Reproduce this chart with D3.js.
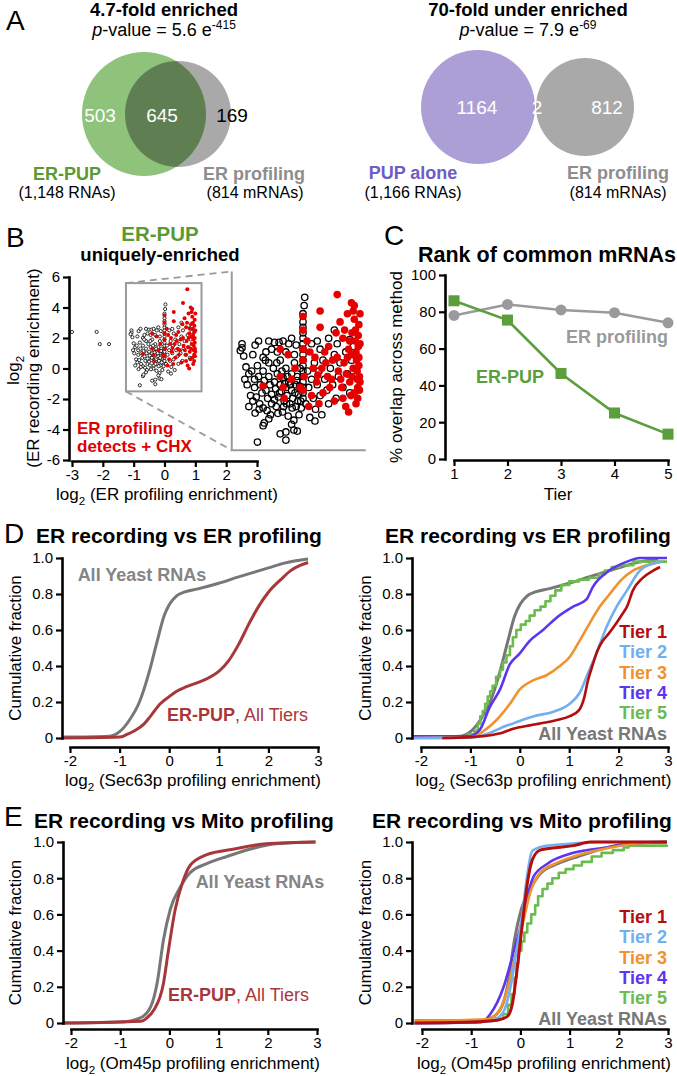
<!DOCTYPE html>
<html><head><meta charset="utf-8">
<script src="https://cdn.jsdelivr.net/npm/d3@7"></script>
<style>body{margin:0;background:#fff}svg{display:block}text{font-family:"Liberation Sans",Arial,Helvetica,sans-serif}</style>
</head><body>
<svg id="c" width="677" height="1076"></svg>
<script>
// ---------------- DATA ----------------
const vennLeftCounts = [503, 645, 169];
const vennRightCounts = [1164, 2, 812];
const tiers = [1, 2, 3, 4, 5];
const rankERprofiling = [78, 84, 81, 79.5, 74];
const rankERPUP = [86, 75.5, 46.5, 25, 13.5];
const scatterTicks = [-6, -4, -2, 0, 2, 4, 6];
const scatterXTicks = [-3, -2, -1, 0, 1, 2, 3];
const cdfYTicks = [0, 0.2, 0.4, 0.6, 0.8, 1.0];
const cdfXTicks = [-2, -1, 0, 1, 2, 3];
const rankYTicks = [0, 20, 40, 60, 80, 100];
const tierLabels = ["Tier 1", "Tier 2", "Tier 3", "Tier 4", "Tier 5", "All Yeast RNAs"];

const scatterBlack = [
[-3.0,2.4],[-2.2,2.4],[-2.1,1.6],[-1.8,1.6],
[-1.07,2.5],[-1.07,2.35],[-1.1,2.25],[-1.04,2.05],[-1.0,1.65],[-0.88,2.1],[-0.84,2.45],[-0.78,2.6],[-0.6,2.6],[-0.5,2.55],[-0.42,2.55],[-0.35,2.6],[-0.25,2.5],[-0.2,2.7],[-0.12,2.45],[-0.55,2.3],[-0.45,2.2],[-0.65,2.2],[0.15,2.5],[0.25,2.6],[0.45,2.7],[0.6,2.5],[0.82,2.65],[0.3,2.3],[-0.3,2.2],[0.55,3.0],[-0.7,2.0],[-0.15,2.1],
[-0.95,1.4],[-1.02,1.2],[-0.98,1.0],[-0.9,1.5],[-0.85,1.2],[-0.85,0.9],[-0.8,1.7],[-0.78,1.3],[-0.75,1.0],[-0.72,0.7],[-0.7,1.5],[-0.68,1.15],[-0.65,0.8],[-0.62,0.5],[-0.6,1.8],[-0.6,1.3],[-0.58,1.0],[-0.55,0.65],[-0.55,0.3],[-0.52,1.6],[-0.5,1.1],[-0.48,0.85],[-0.47,0.2],[-0.45,1.4],[-0.43,0.55],[-0.4,1.9],[-0.4,1.0],[-0.38,0.75],[-0.36,0.0],[-0.35,1.25],[-0.33,0.4],[-0.3,1.6],[-0.3,0.9],[-0.28,0.6],[-0.26,-0.15],[-0.25,1.1],[-0.23,0.3],[-0.2,1.4],[-0.2,0.8],[-0.18,0.5],[-0.16,-0.3],[-0.15,1.8],[-0.13,1.0],[-0.12,0.2],[-0.1,1.3],[-0.08,0.65],[-0.07,-0.1],[-0.05,1.6],[-0.04,0.4],
[-0.92,0.6],[-0.88,0.4],[-0.82,0.55],[-0.76,0.3],[-0.7,0.15],[-0.66,1.9],[-0.63,0.05],[-0.57,-0.1],[-0.5,0.45],[-0.46,1.8],[-0.44,-0.05],[-0.41,0.7],[-0.37,1.5],[-0.34,0.2],[-0.32,1.05],[-0.29,0.3],[-0.27,1.3],[-0.22,1.0],[-0.19,0.15],[-0.14,0.7],[-0.11,1.15],[-0.09,0.4],[-0.06,0.95],[-0.03,0.15],
[0,0.5],[0,0.7],[0,0.9],[0,1.1],[0,1.3],[0,1.5],[0,1.7],[0,1.9],[0,2.1],[0,2.3],[0,2.5],[0,2.7],[0,2.9],[0,3.1],[0,3.3],[0,3.6],[0.02,3.9],[0.03,4.2],
[0.05,0.3],[0.08,1.5],[0.1,0.9],[0.12,-0.2],[0.15,1.2],[0.18,0.5],[0.2,1.8],[0.22,0.1],[0.25,1.0],[0.28,1.5],[0.3,0.6],[0.33,-0.1],[0.35,1.9],[0.38,1.2],[0.42,0.8],[0.45,0.3],[0.48,1.6],[0.52,1.0],[0.55,2.1],[0.58,0.5],[0.62,1.3],[0.65,1.8],[0.7,0.9],[0.75,2.2],[0.78,1.4],[0.82,0.7],[0.85,1.9],[0.88,2.4],
[-0.8,-1.1],[-0.7,-0.5],[-0.68,-0.4],[-0.4,-0.8],[-0.3,-0.73],[-0.3,-1.03],[-0.16,-0.66],[-0.1,-0.7],[0.21,-0.33],[-0.84,-0.04],[-0.77,0.1],[-0.95,0.2],[-0.6,-0.25],[-0.2,-0.45]
];
const scatterRed = [
[-0.7,0.95],[-0.4,2.3],[-0.4,1.3],[-0.35,0.9],[-0.33,0.5],[-0.26,2.1],[-0.14,1.6],[-0.2,1.2],[-0.05,0.9],
[0.0,3.5],[0.0,3.0],[0.0,2.3],[0.0,1.9],[0.02,1.3],[0.0,0.8],
[0.07,2.6],[0.3,3.7],[0.6,4.3],[0.74,5.2],[0.3,3.1],[0.21,2.0],[0.26,1.35],[0.15,0.6],[0.35,0.7],[0.4,1.8],[0.45,2.4],[0.5,1.2],[0.55,0.4],[0.6,2.0],[0.62,1.5],[0.65,3.3],[0.68,0.9],[0.7,2.7],[0.72,1.8],[0.75,0.2],[0.78,3.6],[0.8,2.3],[0.82,1.1],[0.84,0.6],[0.86,2.9],[0.88,1.6],
[0.9,3.9],[0.9,3.4],[0.92,3.0],[0.92,2.6],[0.93,2.2],[0.94,1.9],[0.95,1.5],[0.95,1.2],[0.96,0.9],[0.96,0.5],[0.97,2.8],[0.97,2.4],[0.98,2.0],[0.98,1.7],[0.98,3.2],[0.99,1.3],[0.99,0.8],[1.0,3.6],[1.0,2.5],[1.0,1.1],
[0.88,3.7],[0.85,4.0],[0.93,0.3],[0.8,0.0],[0.58,2.9],[0.52,1.9],[0.47,0.9],[0.43,1.3],[0.38,2.2],[0.33,1.6],[0.28,0.3],[0.24,1.1],[0.18,1.6],[0.12,2.2],[0.1,0.2],[0.66,1.2],[0.7,0.5],[0.76,1.4],[0.78,2.0],[0.82,2.6],[0.86,1.3],[0.9,0.7],[0.87,2.1],[0.73,3.0]
];

// Cumulative distributions: Sec63p (ER profiling)
const cdfSecAll = [[-2.15,0.005],[-1.2,0.01],[-1.0,0.035],[-0.8,0.1],[-0.6,0.2],[-0.4,0.37],[-0.25,0.53],[-0.1,0.68],[0.0,0.74],[0.15,0.79],[0.3,0.81],[0.6,0.83],[1.0,0.86],[1.4,0.895],[1.7,0.92],[2.0,0.945],[2.3,0.97],[2.55,0.985],[2.8,0.995]];
const cdfSecERPUP = [[-2.15,0.0],[-1.0,0.005],[-0.85,0.02],[-0.7,0.04],[-0.5,0.08],[-0.38,0.12],[-0.18,0.19],[0.0,0.23],[0.15,0.26],[0.35,0.285],[0.6,0.31],[0.8,0.335],[1.0,0.37],[1.2,0.43],[1.4,0.52],[1.6,0.63],[1.8,0.73],[2.0,0.81],[2.25,0.88],[2.45,0.93],[2.65,0.96],[2.8,0.975]];
const cdfSecTier1 = [[-1.57,0.0],[-1.0,0.005],[-0.6,0.015],[-0.34,0.03],[-0.15,0.05],[0,0.06],[0.2,0.07],[0.4,0.08],[0.75,0.1],[1.0,0.12],[1.2,0.155],[1.3,0.22],[1.38,0.32],[1.48,0.41],[1.58,0.49],[1.68,0.54],[1.8,0.58],[1.96,0.64],[2.08,0.69],[2.17,0.73],[2.29,0.82],[2.49,0.89],[2.7,0.93],[2.84,0.95]];
const cdfSecTier2 = [[-2.15,0.0],[-0.88,0.005],[-0.7,0.02],[-0.55,0.035],[-0.3,0.065],[-0.14,0.08],[0.05,0.1],[0.27,0.12],[0.67,0.145],[0.9,0.17],[1.01,0.19],[1.21,0.25],[1.38,0.36],[1.55,0.47],[1.76,0.62],[1.96,0.73],[2.17,0.82],[2.43,0.93],[2.7,0.97],[2.87,0.98]];
const cdfSecTier3 = [[-2.15,0.0],[-0.95,0.005],[-0.75,0.035],[-0.47,0.1],[-0.2,0.19],[0,0.27],[0.27,0.32],[0.55,0.35],[0.81,0.4],[1.01,0.45],[1.21,0.54],[1.42,0.64],[1.62,0.73],[1.82,0.8],[2.06,0.88],[2.29,0.93],[2.57,0.96],[2.87,0.98]];
const cdfSecTier4 = [[-2.15,0.01],[-1.01,0.01],[-0.81,0.045],[-0.61,0.17],[-0.4,0.27],[-0.2,0.41],[0,0.47],[0.2,0.54],[0.47,0.6],[0.75,0.67],[1.08,0.73],[1.35,0.77],[1.48,0.84],[1.76,0.92],[2.17,0.98],[2.43,1.0],[2.98,1.0]];
const cdfSecTier5 = [[-2.15,0.01],[-1.05,0.02],[-0.92,0.04],[-0.85,0.08],[-0.8,0.12],[-0.75,0.15],[-0.7,0.19],[-0.65,0.23],[-0.6,0.26],[-0.55,0.29],[-0.48,0.34],[-0.4,0.38],[-0.34,0.42],[-0.27,0.46],[-0.2,0.51],[-0.14,0.56],[-0.07,0.6],[0.02,0.63],[0.12,0.65],[0.2,0.68],[0.3,0.71],[0.42,0.73],[0.52,0.76],[0.62,0.79],[0.72,0.82],[0.84,0.85],[1.0,0.87],[1.2,0.88],[1.4,0.89],[1.6,0.91],[1.72,0.93],[1.86,0.95],[2.02,0.96],[2.3,0.98],[2.98,0.98]];

// Cumulative distributions: Om45p (Mito profiling)
const cdfOmAll = [[-2.15,0.0],[-1.0,0.005],[-0.58,0.03],[-0.38,0.09],[-0.25,0.22],[-0.12,0.46],[0.02,0.63],[0.22,0.75],[0.42,0.83],[0.76,0.88],[1.17,0.92],[1.63,0.96],[2.17,0.99],[2.97,1.0]];
const cdfOmERPUP = [[-2.15,0.0],[-0.58,0.01],[-0.45,0.03],[-0.32,0.07],[-0.12,0.22],[-0.02,0.4],[0.12,0.63],[0.26,0.77],[0.42,0.87],[0.76,0.93],[1.29,0.96],[1.97,0.99],[2.97,1.0]];
const cdfOmTier1 = [[-2.15,0.0],[-1.0,0.005],[-0.47,0.015],[-0.27,0.035],[-0.16,0.11],[-0.06,0.31],[0.04,0.55],[0.14,0.77],[0.24,0.9],[0.4,0.955],[0.75,0.97],[1.08,0.98],[1.42,1.0],[2.98,1.0]];
const cdfOmTier2 = [[-2.15,0.0],[-0.6,0.01],[-0.35,0.06],[-0.2,0.2],[-0.08,0.4],[0.04,0.6],[0.14,0.82],[0.24,0.95],[0.45,0.975],[1.0,0.99],[1.6,1.0],[2.98,1.0]];
const cdfOmTier3 = [[-2.15,0.01],[-0.7,0.02],[-0.45,0.06],[-0.25,0.2],[-0.08,0.4],[0.05,0.55],[0.2,0.72],[0.4,0.83],[0.7,0.88],[1.08,0.92],[1.76,0.965],[2.3,0.99],[2.98,1.0]];
const cdfOmTier4 = [[-2.15,0.0],[-0.8,0.005],[-0.61,0.05],[-0.34,0.2],[-0.14,0.39],[0.04,0.57],[0.16,0.72],[0.27,0.81],[0.55,0.88],[1.08,0.94],[1.76,0.97],[2.43,0.995],[2.98,1.0]];
const cdfOmTier5 = [[-2.15,0.015],[-0.5,0.025],[-0.35,0.05],[-0.25,0.1],[-0.18,0.16],[-0.12,0.25],[-0.08,0.33],[-0.04,0.4],[0.02,0.45],[0.08,0.5],[0.14,0.55],[0.22,0.6],[0.3,0.65],[0.36,0.7],[0.45,0.74],[0.55,0.77],[0.65,0.8],[0.78,0.83],[0.92,0.85],[1.08,0.87],[1.25,0.89],[1.45,0.92],[1.65,0.94],[1.88,0.955],[2.1,0.97],[2.2,0.98],[2.98,0.985]];

// ---------------- STYLE ----------------
const FONT = '"Liberation Sans", Arial, Helvetica, sans-serif';
const C = {
  green:'#8fc27a', overlap:'#5f7e52', vgray:'#a9a9a9', purple:'#ab9fd6',
  greenTxt:'#5a9a32', grayTxt:'#8e8e8e', purpleTxt:'#6e5cc4',
  cGreen:'#5b9e3c', cGray:'#9a9a9a', red:'#e60000',
  erpup:'#a8373a', all:'#777777',
  tier:['#b50d0d','#71aff0','#f0922e','#5c35f2','#6cbb4f']
};
const svg = d3.select('#c');

function txt(x, y, s, o = {}) {
  const t = svg.append('text').attr('x', x).attr('y', y)
    .attr('font-size', o.size || 15).attr('font-weight', o.bold ? 'bold' : 'normal')
    .attr('fill', o.color || '#000').attr('text-anchor', o.anchor || 'start');
  if (s !== null) t.text(s);
  if (o.rotate) t.attr('transform', `rotate(-90,${x},${y})`);
  if (o.italic) t.attr('font-style', 'italic');
  return t;
}
function logTitle(x, y, rest, size, rotate) {
  const t = txt(x, y, null, {size: size, anchor: 'middle', rotate: rotate});
  t.append('tspan').text('log');
  t.append('tspan').attr('font-size', size * 0.68).attr('dy', size * 0.28).text('2');
  t.append('tspan').attr('dy', -size * 0.28).text('\u00a0' + rest);
  return t;
}
function styleAxis(g) {
  g.select('.domain').attr('stroke', '#000').attr('stroke-width', 2.6).attr('stroke-linecap', 'square');
  g.selectAll('.tick line').attr('stroke', '#000').attr('stroke-width', 2.2);
  g.selectAll('.tick text').attr('font-size', 15).attr('font-family', FONT).attr('fill', '#000');
}
function axisLeft(scale, x, ticks, fmt) {
  const g = svg.append('g').attr('transform', `translate(${x},0)`)
    .call(d3.axisLeft(scale).tickValues(ticks).tickFormat(fmt).tickSize(6).tickSizeOuter(0).tickPadding(3));
  styleAxis(g); return g;
}
function axisBottom(scale, y, ticks, fmt) {
  const g = svg.append('g').attr('transform', `translate(0,${y})`)
    .call(d3.axisBottom(scale).tickValues(ticks).tickFormat(fmt).tickSize(6).tickSizeOuter(0).tickPadding(2));
  styleAxis(g); return g;
}
const fmtInt = d => String(d);
const fmtFrac = d => d === 0 ? '0' : d.toFixed(1);

// ---------------- PANEL LETTERS ----------------
[['A',6,30],['B',6,247],['C',384,245],['D',4,543],['E',4,826]].forEach(([l,x,y]) => txt(x, y, l, {size: 28}));

// ---------------- PANEL A ----------------
function pval(cx, y, mant, exp) {
  const t = txt(cx, y, null, {size: 18, anchor: 'middle'});
  t.append('tspan').attr('font-style', 'italic').text('p');
  t.append('tspan').text('-value = ' + mant + ' e');
  t.append('tspan').attr('font-size', 12).attr('dy', -7).text(exp);
}
txt(164, 16, '4.7-fold enriched', {size: 18.5, bold: true, anchor: 'middle'});
pval(164, 36, '5.6', '-415');
txt(528, 16, '70-fold under enriched', {size: 18.5, bold: true, anchor: 'middle'});
pval(528, 36, '7.9', '-69');

// left venn
const vL = {g: [144, 114, 62], p: [178, 114, 53]};
svg.append('defs').append('clipPath').attr('id', 'clipGray')
  .append('circle').attr('cx', vL.p[0]).attr('cy', vL.p[1]).attr('r', vL.p[2]);
svg.append('circle').attr('cx', vL.p[0]).attr('cy', vL.p[1]).attr('r', vL.p[2]).attr('fill', C.vgray);
svg.append('circle').attr('cx', vL.g[0]).attr('cy', vL.g[1]).attr('r', vL.g[2]).attr('fill', C.green);
svg.append('circle').attr('cx', vL.g[0]).attr('cy', vL.g[1]).attr('r', vL.g[2]).attr('fill', C.overlap).attr('clip-path', 'url(#clipGray)');
txt(100, 122, vennLeftCounts[0], {size: 19, color: '#fff', anchor: 'middle'});
txt(162, 122, vennLeftCounts[1], {size: 19, color: '#fff', anchor: 'middle'});
txt(232, 122, vennLeftCounts[2], {size: 19, color: '#000', anchor: 'middle'});
txt(67, 180, 'ER-PUP', {size: 18, bold: true, color: C.greenTxt, anchor: 'middle'});
txt(67, 198, '(1,148 RNAs)', {size: 16, anchor: 'middle'});
txt(254, 180, 'ER profiling', {size: 18, bold: true, color: C.grayTxt, anchor: 'middle'});
txt(255, 198, '(814 mRNAs)', {size: 16, anchor: 'middle'});

// right venn
svg.append('circle').attr('cx', 478).attr('cy', 107).attr('r', 57).attr('fill', C.purple);
svg.append('circle').attr('cx', 585).attr('cy', 107).attr('r', 49).attr('fill', C.vgray);
txt(477, 114, vennRightCounts[0], {size: 19, color: '#fff', anchor: 'middle'});
txt(537, 114, vennRightCounts[1], {size: 19, color: '#fff', anchor: 'middle'});
txt(607, 114, vennRightCounts[2], {size: 19, color: '#fff', anchor: 'middle'});
txt(413, 179, 'PUP alone', {size: 18, bold: true, color: C.purpleTxt, anchor: 'middle'});
txt(413, 198, '(1,166 RNAs)', {size: 16, anchor: 'middle'});
txt(618, 179, 'ER profiling', {size: 18, bold: true, color: C.grayTxt, anchor: 'middle'});
txt(618, 198, '(814 mRNAs)', {size: 16, anchor: 'middle'});

// ---------------- PANEL B ----------------
txt(160, 241, 'ER-PUP', {size: 20.5, bold: true, color: C.greenTxt, anchor: 'middle'});
txt(160, 261, 'uniquely-enriched', {size: 18.5, bold: true, anchor: 'middle'});
const xS = d3.scaleLinear([-3, 3], [72, 257]);
const yS = d3.scaleLinear([-6, 6], [460, 277]);
const xB = d3.scaleLinear([-1, 1], [246, 360]);
const yB = d3.scaleLinear([0, 5], [412, 275.5]);
const insetX = [-1.25, 1.2], insetY = [-1.5, 5.6];
const bigX = [-1.25, 1.1], bigY = [-1.4, 5.15];

// inset box
svg.append('rect').attr('x', xS(insetX[0])).attr('y', yS(insetY[1]))
  .attr('width', xS(insetX[1]) - xS(insetX[0])).attr('height', yS(insetY[0]) - yS(insetY[1]))
  .attr('fill', 'none').attr('stroke', '#9a9a9a').attr('stroke-width', 2);
// connector dashed lines
const dash = [[xS(insetX[0]), yS(insetY[1]), xB(bigX[0]), yB(bigY[1])], [xS(insetX[0]), yS(insetY[0]), xB(bigX[0]), yB(bigY[0])]];
dash.forEach(d => svg.append('line').attr('x1', d[0]).attr('y1', d[1]).attr('x2', d[2]).attr('y2', d[3])
  .attr('stroke', '#9a9a9a').attr('stroke-width', 1.8).attr('stroke-dasharray', '7,5'));
// big frame (left and bottom)
svg.append('path').attr('d', `M${xB(bigX[0])},${yB(bigY[1])}V${yB(bigY[0])}H${xB(bigX[1])}`)
  .attr('fill', 'none').attr('stroke', '#9a9a9a').attr('stroke-width', 2);

// small scatter
svg.append('g').selectAll('circle').data(scatterBlack).join('circle')
  .attr('cx', d => xS(d[0])).attr('cy', d => yS(d[1])).attr('r', 1.6)
  .attr('fill', '#fff').attr('stroke', '#000').attr('stroke-width', 0.8);
svg.append('g').selectAll('circle').data(scatterRed).join('circle')
  .attr('cx', d => xS(d[0])).attr('cy', d => yS(d[1])).attr('r', 2).attr('fill', C.red);
// big scatter
const inBig = d => d[0] >= bigX[0] && d[0] <= bigX[1] && d[1] >= bigY[0] && d[1] <= bigY[1];
svg.append('g').selectAll('circle').data(scatterBlack.filter(inBig)).join('circle')
  .attr('cx', d => xB(d[0])).attr('cy', d => yB(d[1])).attr('r', 3.2)
  .attr('fill', 'none').attr('stroke', '#000').attr('stroke-width', 1.3);
svg.append('g').selectAll('circle').data(scatterRed.filter(inBig)).join('circle')
  .attr('cx', d => xB(d[0])).attr('cy', d => yB(d[1])).attr('r', 3.8).attr('fill', C.red);

axisLeft(yS, 69, scatterTicks, fmtInt);
axisBottom(d3.scaleLinear([-3, 3], [72, 257]), 461, scatterXTicks, fmtInt);
txt(77, 434, 'ER profiling', {size: 17, bold: true, color: '#e00000'});
txt(77, 452, 'detects + CHX', {size: 17, bold: true, color: '#e00000'});
logTitle(19, 368, '', 17, true);
txt(39, 368, '(ER recording enrichment)', {size: 17, anchor: 'middle', rotate: true});
logTitle(167, 500, '(ER profiling enrichment)', 17, false);

// ---------------- PANEL C ----------------
txt(547, 262, 'Rank of common mRNAs', {size: 21.5, bold: true, anchor: 'middle'});
const xC = d3.scaleLinear([1, 5], [454, 668]);
const yC = d3.scaleLinear([0, 100], [459, 275]);
axisLeft(yC, 445, rankYTicks, fmtInt);
axisBottom(xC, 460, tiers, fmtInt);
txt(558, 500, 'Tier', {size: 17, anchor: 'middle'});
txt(402, 367, '% overlap across method', {size: 17, anchor: 'middle', rotate: true});
const lineC = d3.line().x((d, i) => xC(tiers[i])).y(d => yC(d));
svg.append('path').attr('d', lineC(rankERprofiling)).attr('fill', 'none').attr('stroke', C.cGray).attr('stroke-width', 2.6);
svg.append('g').selectAll('circle').data(rankERprofiling).join('circle')
  .attr('cx', (d, i) => xC(tiers[i])).attr('cy', d => yC(d)).attr('r', 5.5).attr('fill', C.cGray);
svg.append('path').attr('d', lineC(rankERPUP)).attr('fill', 'none').attr('stroke', C.cGreen).attr('stroke-width', 2.6);
svg.append('g').selectAll('rect').data(rankERPUP).join('rect')
  .attr('x', (d, i) => xC(tiers[i]) - 5.5).attr('y', d => yC(d) - 5.5).attr('width', 11).attr('height', 11).attr('fill', C.cGreen);
txt(617, 343, 'ER profiling', {size: 18, bold: true, color: C.cGray, anchor: 'middle'});
txt(510, 383, 'ER-PUP', {size: 18, bold: true, color: C.cGreen, anchor: 'middle'});

// ---------------- CDF panels ----------------
function cdfPanel(cfg) {
  const x = d3.scaleLinear([-2, 3], cfg.xr);
  const y = d3.scaleLinear([0, 1], cfg.yr);
  txt(cfg.titleX, cfg.titleY, cfg.title, {size: 21, bold: true, anchor: 'middle'});
  cfg.series.forEach(s => {
    const ln = d3.line().x(d => x(d[0])).y(d => y(d[1])).curve(s.step ? d3.curveStepAfter : d3.curveMonotoneX);
    svg.append('path').attr('d', ln(s.data)).attr('fill', 'none').attr('stroke', s.color)
      .attr('stroke-width', s.w || 2.6).attr('stroke-linejoin', 'round');
  });
  axisLeft(y, cfg.yAxisX, cdfYTicks, fmtFrac);
  axisBottom(x, cfg.xAxisY, cdfXTicks, fmtInt);
  txt(cfg.yTitleX, (cfg.yr[0] + cfg.yr[1]) / 2, 'Cumulative fraction', {size: 17, anchor: 'middle', rotate: true});
  logTitle((cfg.xr[0] + cfg.xr[1]) / 2 - 1, cfg.xTitleY, cfg.xTitle, 17, false);
  return {x, y};
}
function tierLegend(right, y0, step) {
  tierLabels.forEach((l, i) => txt(right, y0 + i * step, l, {size: 18, bold: true, anchor: 'end', color: i < 5 ? C.tier[i] : C.all}));
}
function erpupLabel(x, y) {
  const t = txt(x, y, null, {size: 18, color: C.erpup});
  t.append('tspan').attr('font-weight', 'bold').text('ER-PUP');
  t.append('tspan').text(', All Tiers');
}

// D left
cdfPanel({xr: [70, 318], yr: [738, 558], yAxisX: 62, xAxisY: 747, title: 'ER recording vs ER profiling', titleX: 179, titleY: 543,
  yTitleX: 21, xTitleY: 786, xTitle: '(Sec63p profiling enrichment)',
  series: [{data: cdfSecAll, color: C.all, w: 3}, {data: cdfSecERPUP, color: C.erpup, w: 3}]});
txt(142, 581, 'All Yeast RNAs', {size: 18, bold: true, color: '#858585', anchor: 'middle'});
erpupLabel(167, 721);

// D right
cdfPanel({xr: [421, 668], yr: [738, 558], yAxisX: 412, xAxisY: 747, title: 'ER recording vs ER profiling', titleX: 528, titleY: 543,
  yTitleX: 371, xTitleY: 786, xTitle: '(Sec63p profiling enrichment)',
  series: [{data: cdfSecAll, color: C.all, w: 3}, {data: cdfSecTier5, color: C.tier[4], step: true},
    {data: cdfSecTier4, color: C.tier[3]}, {data: cdfSecTier3, color: C.tier[2]},
    {data: cdfSecTier2, color: C.tier[1]}, {data: cdfSecTier1, color: C.tier[0]}]});
tierLegend(667, 638, 20.3);

// E left
cdfPanel({xr: [71, 317], yr: [1023, 842], yAxisX: 63, xAxisY: 1029, title: 'ER recording vs Mito profiling', titleX: 184, titleY: 828,
  yTitleX: 21, xTitleY: 1069, xTitle: '(Om45p profiling enrichment)',
  series: [{data: cdfOmAll, color: C.all, w: 3}, {data: cdfOmERPUP, color: C.erpup, w: 3}]});
txt(260, 888, 'All Yeast RNAs', {size: 18, bold: true, color: '#858585', anchor: 'middle'});
erpupLabel(168, 1001);

// E right
cdfPanel({xr: [422, 668], yr: [1023, 842], yAxisX: 412, xAxisY: 1029, title: 'ER recording vs Mito profiling', titleX: 522, titleY: 828,
  yTitleX: 371, xTitleY: 1069, xTitle: '(Om45p profiling enrichment)',
  series: [{data: cdfOmAll, color: C.all, w: 3}, {data: cdfOmTier5, color: C.tier[4], step: true},
    {data: cdfOmTier4, color: C.tier[3]}, {data: cdfOmTier3, color: C.tier[2]},
    {data: cdfOmTier2, color: C.tier[1]}, {data: cdfOmTier1, color: C.tier[0], w: 3}]});
tierLegend(667, 923, 20.3);
</script>
</body></html>
